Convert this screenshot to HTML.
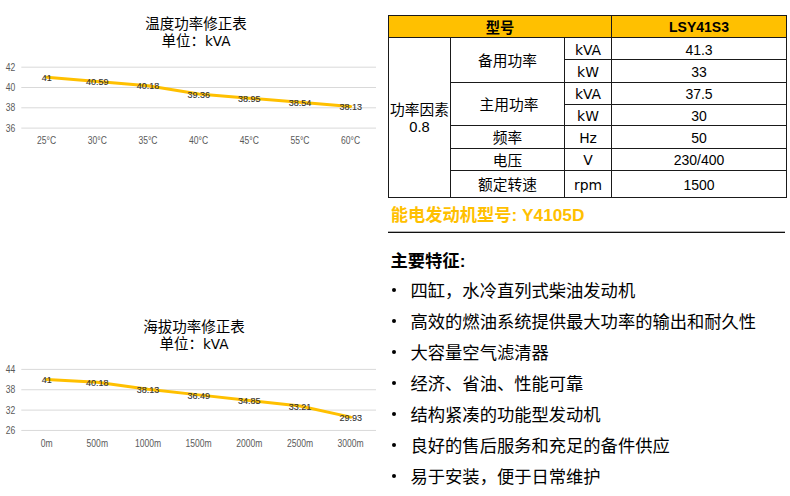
<!DOCTYPE html>
<html><head><meta charset="utf-8">
<style>
*{margin:0;padding:0;box-sizing:border-box}
html,body{width:790px;height:496px;background:#fff;overflow:hidden}
body{position:relative;font-family:"Liberation Sans","Noto Sans CJK SC",sans-serif;color:#000}
.a{position:absolute;white-space:nowrap}
.t{position:absolute;white-space:nowrap;text-align:center}
svg{position:absolute;left:0;top:0}
svg text{font-family:"Liberation Sans","Noto Sans CJK SC",sans-serif}
.ax{font-size:10.2px;fill:#5a5a5a}
.dl{font-size:9px;fill:#333;stroke:#333;stroke-width:0.12px}
.title{position:absolute;text-align:center;font-size:14.5px;line-height:17.1px;color:#000;font-family:"Liberation Sans","Noto Sans CJK SC",sans-serif}
.hl{position:absolute;height:1px;background:#1a1a1a}
.vl{position:absolute;width:1px;background:#1a1a1a}
.c{position:absolute;text-align:center;font-size:14px;line-height:16px;white-space:nowrap}
.cj{font-size:14.7px}
.u{font-family:"DejaVu Sans",sans-serif;font-size:13.9px}
.b{font-weight:bold}
.k{font-family:"DejaVu Sans",sans-serif;font-size:13.6px}
.feat{position:absolute;left:410.5px;font-size:17.3px;line-height:31px;white-space:nowrap}
.dot{position:absolute;left:391.5px;width:4.6px;height:4.6px;border-radius:50%;background:#000}
</style></head><body>
<svg width="390" height="496" viewBox="0 0 390 496">
<line x1="21.3" y1="67.20" x2="376.0" y2="67.20" stroke="#d9d9d9" stroke-width="1"/>
<line x1="21.3" y1="87.50" x2="376.0" y2="87.50" stroke="#d9d9d9" stroke-width="1"/>
<line x1="21.3" y1="107.80" x2="376.0" y2="107.80" stroke="#d9d9d9" stroke-width="1"/>
<line x1="21.3" y1="128.10" x2="376.0" y2="128.10" stroke="#d9d9d9" stroke-width="1"/>
<text transform="translate(15.2 70.80) scale(0.84 1)" text-anchor="end" class="ax">42</text>
<text transform="translate(15.2 91.10) scale(0.84 1)" text-anchor="end" class="ax">40</text>
<text transform="translate(15.2 111.40) scale(0.84 1)" text-anchor="end" class="ax">38</text>
<text transform="translate(15.2 131.70) scale(0.84 1)" text-anchor="end" class="ax">36</text>
<text transform="translate(46.64 144.20) scale(0.84 1)" text-anchor="middle" class="ax">25°C</text>
<text transform="translate(97.31 144.20) scale(0.84 1)" text-anchor="middle" class="ax">30°C</text>
<text transform="translate(147.98 144.20) scale(0.84 1)" text-anchor="middle" class="ax">35°C</text>
<text transform="translate(198.65 144.20) scale(0.84 1)" text-anchor="middle" class="ax">40°C</text>
<text transform="translate(249.32 144.20) scale(0.84 1)" text-anchor="middle" class="ax">45°C</text>
<text transform="translate(299.99 144.20) scale(0.84 1)" text-anchor="middle" class="ax">55°C</text>
<text transform="translate(350.66 144.20) scale(0.84 1)" text-anchor="middle" class="ax">60°C</text>
<polyline fill="none" stroke="#ffc000" stroke-width="3" stroke-linejoin="round" stroke-linecap="round" points="46.64,77.35 97.31,81.51 147.98,85.67 198.65,94.00 249.32,98.16 299.99,102.32 350.66,106.48"/>
<text x="46.64" y="81.15" text-anchor="middle" class="dl">41</text>
<text x="97.31" y="85.31" text-anchor="middle" class="dl">40.59</text>
<text x="147.98" y="89.47" text-anchor="middle" class="dl">40.18</text>
<text x="198.65" y="97.80" text-anchor="middle" class="dl">39.36</text>
<text x="249.32" y="101.96" text-anchor="middle" class="dl">38.95</text>
<text x="299.99" y="106.12" text-anchor="middle" class="dl">38.54</text>
<text x="350.66" y="110.28" text-anchor="middle" class="dl">38.13</text>
<line x1="21.3" y1="369.40" x2="376.0" y2="369.40" stroke="#d9d9d9" stroke-width="1"/>
<line x1="21.3" y1="389.75" x2="376.0" y2="389.75" stroke="#d9d9d9" stroke-width="1"/>
<line x1="21.3" y1="410.10" x2="376.0" y2="410.10" stroke="#d9d9d9" stroke-width="1"/>
<line x1="21.3" y1="430.45" x2="376.0" y2="430.45" stroke="#d9d9d9" stroke-width="1"/>
<text transform="translate(15.2 373.00) scale(0.84 1)" text-anchor="end" class="ax">44</text>
<text transform="translate(15.2 393.35) scale(0.84 1)" text-anchor="end" class="ax">38</text>
<text transform="translate(15.2 413.70) scale(0.84 1)" text-anchor="end" class="ax">32</text>
<text transform="translate(15.2 434.05) scale(0.84 1)" text-anchor="end" class="ax">26</text>
<text transform="translate(46.64 446.55) scale(0.84 1)" text-anchor="middle" class="ax">0m</text>
<text transform="translate(97.31 446.55) scale(0.84 1)" text-anchor="middle" class="ax">500m</text>
<text transform="translate(147.98 446.55) scale(0.84 1)" text-anchor="middle" class="ax">1000m</text>
<text transform="translate(198.65 446.55) scale(0.84 1)" text-anchor="middle" class="ax">1500m</text>
<text transform="translate(249.32 446.55) scale(0.84 1)" text-anchor="middle" class="ax">2000m</text>
<text transform="translate(299.99 446.55) scale(0.84 1)" text-anchor="middle" class="ax">2500m</text>
<text transform="translate(350.66 446.55) scale(0.84 1)" text-anchor="middle" class="ax">3000m</text>
<polyline fill="none" stroke="#ffc000" stroke-width="3" stroke-linejoin="round" stroke-linecap="round" points="46.64,379.57 97.31,382.36 147.98,389.31 198.65,394.87 249.32,400.43 299.99,406.00 350.66,417.12"/>
<text x="46.64" y="383.38" text-anchor="middle" class="dl">41</text>
<text x="97.31" y="386.16" text-anchor="middle" class="dl">40.18</text>
<text x="147.98" y="393.11" text-anchor="middle" class="dl">38.13</text>
<text x="198.65" y="398.67" text-anchor="middle" class="dl">36.49</text>
<text x="249.32" y="404.23" text-anchor="middle" class="dl">34.85</text>
<text x="299.99" y="409.80" text-anchor="middle" class="dl">33.21</text>
<text x="350.66" y="420.92" text-anchor="middle" class="dl">29.93</text>
</svg>
<div class="title" style="left:96px;top:15.5px;width:200px">温度功率修正表<br>单位：<span class="k">kVA</span></div>
<div class="title" style="left:94px;top:318.5px;width:200px">海拔功率修正表<br>单位：<span class="k">kVA</span></div>

<!-- table -->
<div class="a" style="left:388px;top:15px;width:399px;height:23px;background:#ffc000"></div>
<div class="hl" style="left:388px;top:15px;width:399px"></div>
<div class="hl" style="left:388px;top:37px;width:399px"></div>
<div class="hl" style="left:564px;top:59px;width:223px"></div>
<div class="hl" style="left:450px;top:82px;width:337px"></div>
<div class="hl" style="left:564px;top:104px;width:223px"></div>
<div class="hl" style="left:450px;top:125px;width:337px"></div>
<div class="hl" style="left:450px;top:148px;width:337px"></div>
<div class="hl" style="left:450px;top:170px;width:337px"></div>
<div class="hl" style="left:388px;top:197px;width:399px"></div>
<div class="vl" style="left:388px;top:15px;height:183px"></div>
<div class="vl" style="left:450px;top:37px;height:161px"></div>
<div class="vl" style="left:564px;top:37px;height:161px"></div>
<div class="vl" style="left:611px;top:15px;height:183px"></div>
<div class="vl" style="left:786px;top:15px;height:183px"></div>

<div class="c b cj" style="left:388px;width:224px;top:19.7px;font-size:14.3px">型号</div>
<div class="c b" style="left:611px;width:176px;top:19px">LSY41S3</div>

<div class="c cj" style="left:388px;width:63px;top:102px;line-height:17px">功率因素<br>0.8</div>
<div class="c cj" style="left:450px;width:115px;top:53px">备用功率</div>
<div class="c cj" style="left:451.5px;width:115px;top:97px">主用功率</div>
<div class="c cj" style="left:450px;width:115px;top:130.2px">频率</div>
<div class="c cj" style="left:450px;width:115px;top:152.5px">电压</div>
<div class="c cj" style="left:450px;width:115px;top:177.2px">额定转速</div>

<div class="c u" style="left:564px;width:48px;top:42px">kVA</div>
<div class="c u" style="left:564px;width:48px;top:64px">kW</div>
<div class="c u" style="left:564px;width:48px;top:86px">kVA</div>
<div class="c u" style="left:564px;width:48px;top:108px">kW</div>
<div class="c u" style="left:564px;width:48px;top:130px">Hz</div>
<div class="c u" style="left:564px;width:48px;top:152px">V</div>
<div class="c u" style="left:564px;width:48px;top:177px">rpm</div>

<div class="c" style="left:611px;width:176px;top:41.6px">41.3</div>
<div class="c" style="left:611px;width:176px;top:63.6px">33</div>
<div class="c" style="left:611px;width:176px;top:85.6px">37.5</div>
<div class="c" style="left:611px;width:176px;top:107.6px">30</div>
<div class="c" style="left:611px;width:176px;top:129.6px">50</div>
<div class="c" style="left:611px;width:176px;top:151.6px">230/400</div>
<div class="c" style="left:611px;width:176px;top:176.6px">1500</div>

<div class="a b" style="left:390.8px;top:205px;font-size:17.25px;line-height:20px;color:#ffc000">能电发动机型号: Y4105D</div>
<div class="a" style="left:388px;top:231px;width:397px;height:1px;background:#b4b4b4"></div>
<div class="a" style="left:388px;top:232px;width:397px;height:1px;background:#111"></div>
<div class="a b" style="left:390.5px;top:250.7px;font-size:17.3px;line-height:20px">主要特征:</div>

<div class="dot" style="top:287.6px"></div>
<div class="dot" style="top:318.6px"></div>
<div class="dot" style="top:349.6px"></div>
<div class="dot" style="top:380.6px"></div>
<div class="dot" style="top:411.6px"></div>
<div class="dot" style="top:442.6px"></div>
<div class="dot" style="top:473.6px"></div>
<div class="feat" style="top:275.70px">四缸，水冷直列式柴油发动机</div>
<div class="feat" style="top:306.75px">高效的燃油系统提供最大功率的输出和耐久性</div>
<div class="feat" style="top:337.80px">大容量空气滤清器</div>
<div class="feat" style="top:368.85px">经济、省油、性能可靠</div>
<div class="feat" style="top:399.90px">结构紧凑的功能型发动机</div>
<div class="feat" style="top:430.95px">良好的售后服务和充足的备件供应</div>
<div class="feat" style="top:462.00px">易于安装，便于日常维护</div>
</body></html>
